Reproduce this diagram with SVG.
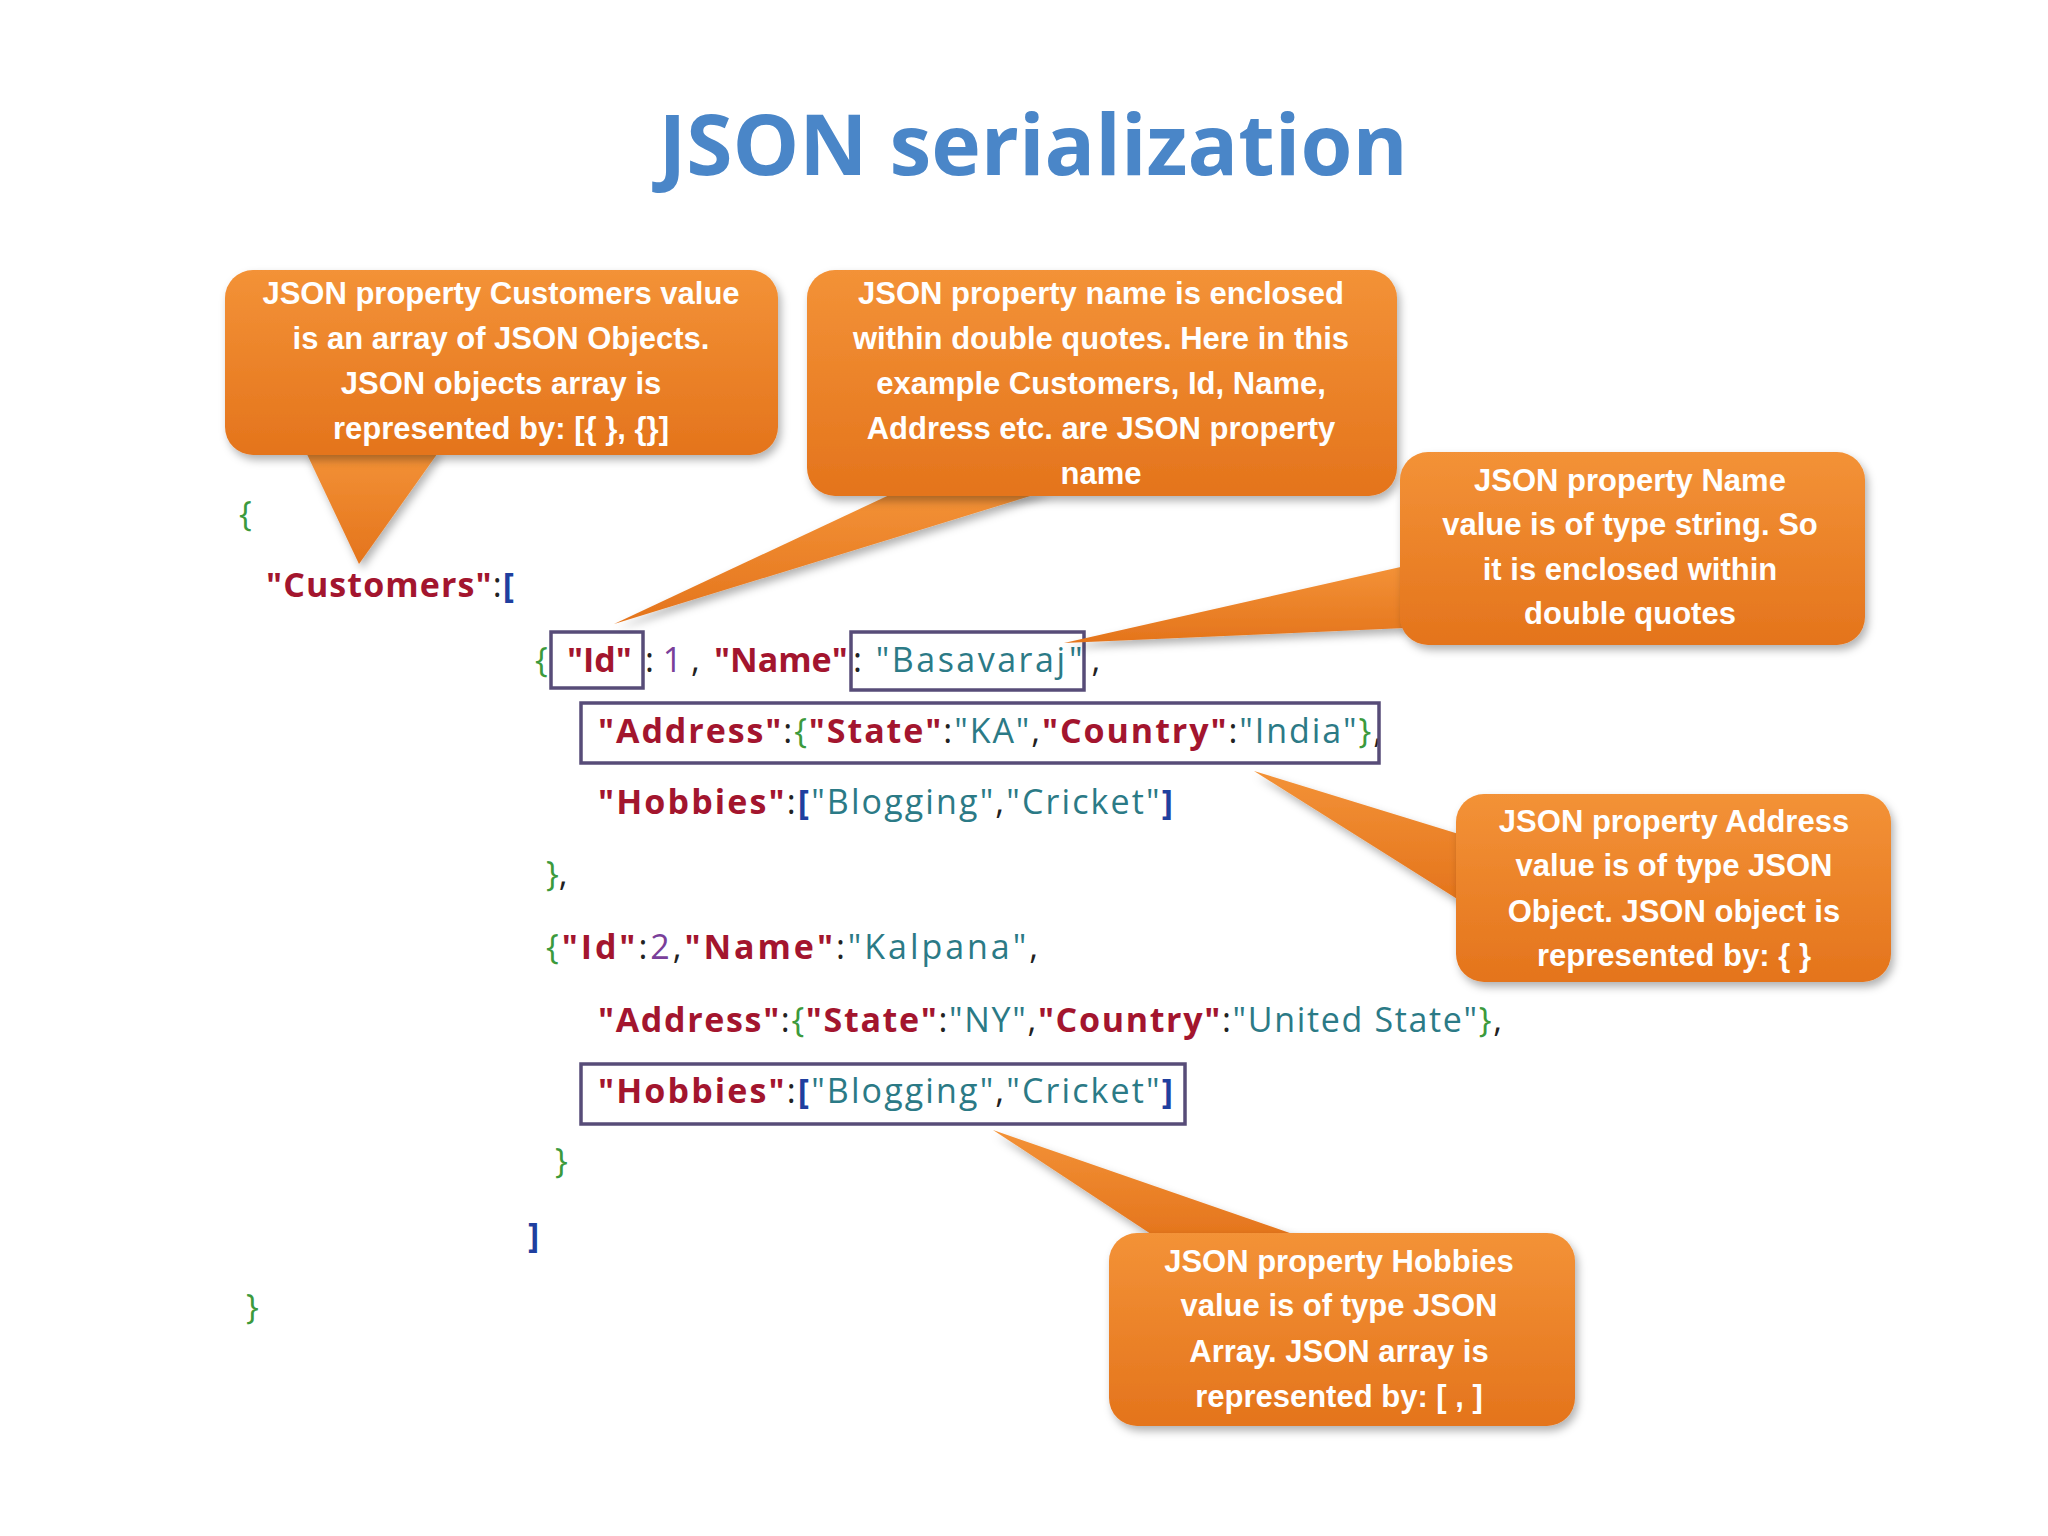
<svg xmlns="http://www.w3.org/2000/svg" width="2048" height="1536" viewBox="0 0 2048 1536">
<defs>
<linearGradient id="og" x1="0" y1="0" x2="0" y2="1"><stop offset="0" stop-color="#f39237"/><stop offset="1" stop-color="#e4741c"/></linearGradient>
<filter id="sh" x="-10%" y="-10%" width="120%" height="130%"><feDropShadow dx="3" dy="5" stdDeviation="4" flood-color="#000" flood-opacity="0.3"/></filter>
</defs>
<style>
.co{fill:url(#og);filter:url(#sh)}
.ct{font-family:"Liberation Sans",Arial,sans-serif;font-weight:bold;font-size:31px;fill:#fff;text-anchor:middle}
.code{font-family:"Open Sans","Liberation Sans",sans-serif;font-size:34px}
.k{fill:#a3152e;font-weight:bold}.v{fill:#2b7a86}.n{fill:#7a3f9a}.g{fill:#3c9a3c}.b{fill:#1f3f9f;font-weight:bold}.p{fill:#222}
.bx{fill:none;stroke:#574c78;stroke-width:3.5}
</style>
<rect width="2048" height="1536" fill="#fff"/>
<text x="1033" y="175" text-anchor="middle" font-family="'Open Sans','Liberation Sans',sans-serif" font-weight="bold" font-size="84" fill="#4a86c8">JSON serialization</text>

<g id="code">
<text class="code" x="239" y="526"><tspan class="g">{</tspan></text>
<text class="code" x="266" y="597" textLength="248" lengthAdjust="spacing"><tspan class="k">"Customers"</tspan><tspan class="p">:</tspan><tspan class="b">[</tspan></text>
<text class="code" x="535" y="672"><tspan class="g">{</tspan></text>
<text class="code" x="567" y="672"><tspan class="k">"Id"</tspan></text>
<text class="code" x="645" y="672"><tspan class="p">:</tspan><tspan class="n"> 1 </tspan><tspan class="p">, </tspan></text>
<text class="code" x="714" y="672"><tspan class="k">"Name"</tspan></text>
<text class="code" x="853" y="672" textLength="212" lengthAdjust="spacing"><tspan class="p">: </tspan><tspan class="v">"Basavaraj</tspan></text>
<text class="code" x="1069" y="672"><tspan class="v">"</tspan><tspan class="p">  ,</tspan></text>
<text class="code" x="598" y="743" textLength="784" lengthAdjust="spacing"><tspan class="k">"Address"</tspan><tspan class="p">:</tspan><tspan class="g">{</tspan><tspan class="k">"State"</tspan><tspan class="p">:</tspan><tspan class="v">"KA"</tspan><tspan class="p">,</tspan><tspan class="k">"Country"</tspan><tspan class="p">:</tspan><tspan class="v">"India"</tspan><tspan class="g">}</tspan><tspan class="p">,</tspan></text>
<text class="code" x="598" y="814" textLength="575" lengthAdjust="spacing"><tspan class="k">"Hobbies"</tspan><tspan class="p">:</tspan><tspan class="b">[</tspan><tspan class="v">"Blogging"</tspan><tspan class="p">,</tspan><tspan class="v">"Cricket"</tspan><tspan class="b">]</tspan></text>
<text class="code" x="546" y="886"><tspan class="g">}</tspan><tspan class="p">,</tspan></text>
<text class="code" x="546" y="959" textLength="492" lengthAdjust="spacing"><tspan class="g">{</tspan><tspan class="k">"Id"</tspan><tspan class="p">:</tspan><tspan class="n">2</tspan><tspan class="p">,</tspan><tspan class="k">"Name"</tspan><tspan class="p">:</tspan><tspan class="v">"Kalpana"</tspan><tspan class="p">,</tspan></text>
<text class="code" x="598" y="1032" textLength="904" lengthAdjust="spacing"><tspan class="k">"Address"</tspan><tspan class="p">:</tspan><tspan class="g">{</tspan><tspan class="k">"State"</tspan><tspan class="p">:</tspan><tspan class="v">"NY"</tspan><tspan class="p">,</tspan><tspan class="k">"Country"</tspan><tspan class="p">:</tspan><tspan class="v">"United State"</tspan><tspan class="g">}</tspan><tspan class="p">,</tspan></text>
<text class="code" x="598" y="1103" textLength="575" lengthAdjust="spacing"><tspan class="k">"Hobbies"</tspan><tspan class="p">:</tspan><tspan class="b">[</tspan><tspan class="v">"Blogging"</tspan><tspan class="p">,</tspan><tspan class="v">"Cricket"</tspan><tspan class="b">]</tspan></text>
<text class="code" x="555" y="1173"><tspan class="g">}</tspan></text>
<text class="code" x="528" y="1247"><tspan class="b">]</tspan></text>
<text class="code" x="246" y="1319"><tspan class="g">}</tspan></text>
</g>

<g id="highlights">
<rect class="bx" x="551" y="632" width="92" height="56"/>
<rect class="bx" x="851" y="632" width="233" height="58"/>
<rect class="bx" x="581" y="703" width="798" height="60"/>
<rect class="bx" x="581" y="1064" width="604" height="60"/>
</g>

<g id="connectors">
<path class="co" d="M305 450 L440 450 L359 564 Z"/>
<path class="co" d="M900 490 L1050 490 L614 624 Z"/>
<path class="co" d="M1405 566 L1405 628 L1064 643 Z"/>
<path class="co" d="M1462 835 L1462 902 L1254 771 Z"/>
<path class="co" d="M1160 1240 L1310 1240 L993 1130 Z"/>
</g>

<g id="c1"><rect class="co" x="225" y="270" width="553" height="185" rx="28"/>
<text class="ct"><tspan x="501" y="304">JSON property Customers value</tspan><tspan x="501" y="349">is an array of  JSON Objects.</tspan><tspan x="501" y="394">JSON objects array is</tspan><tspan x="501" y="439">represented by: [{ }, {}]</tspan></text></g>
<g id="c2"><rect class="co" x="807" y="270" width="590" height="226" rx="28"/>
<text class="ct"><tspan x="1101" y="304">JSON property name is enclosed</tspan><tspan x="1101" y="349">within double quotes. Here in this</tspan><tspan x="1101" y="394">example Customers, Id, Name,</tspan><tspan x="1101" y="439">Address etc. are JSON property</tspan><tspan x="1101" y="484">name</tspan></text></g>
<g id="c3"><rect class="co" x="1400" y="452" width="465" height="193" rx="28"/>
<text class="ct"><tspan x="1630" y="491">JSON property Name</tspan><tspan x="1630" y="535">value is of type string. So</tspan><tspan x="1630" y="580">it is enclosed within</tspan><tspan x="1630" y="624">double quotes</tspan></text></g>
<g id="c4"><rect class="co" x="1456" y="794" width="435" height="188" rx="28"/>
<text class="ct"><tspan x="1674" y="832">JSON property Address</tspan><tspan x="1674" y="876">value is  of type JSON</tspan><tspan x="1674" y="922">Object. JSON object is</tspan><tspan x="1674" y="966">represented by: { }</tspan></text></g>
<g id="c5"><rect class="co" x="1109" y="1233" width="466" height="193" rx="28"/>
<text class="ct"><tspan x="1339" y="1272">JSON property Hobbies</tspan><tspan x="1339" y="1316">value is of type JSON</tspan><tspan x="1339" y="1362">Array. JSON array is</tspan><tspan x="1339" y="1407">represented by: [ , ]</tspan></text></g>
</svg>
